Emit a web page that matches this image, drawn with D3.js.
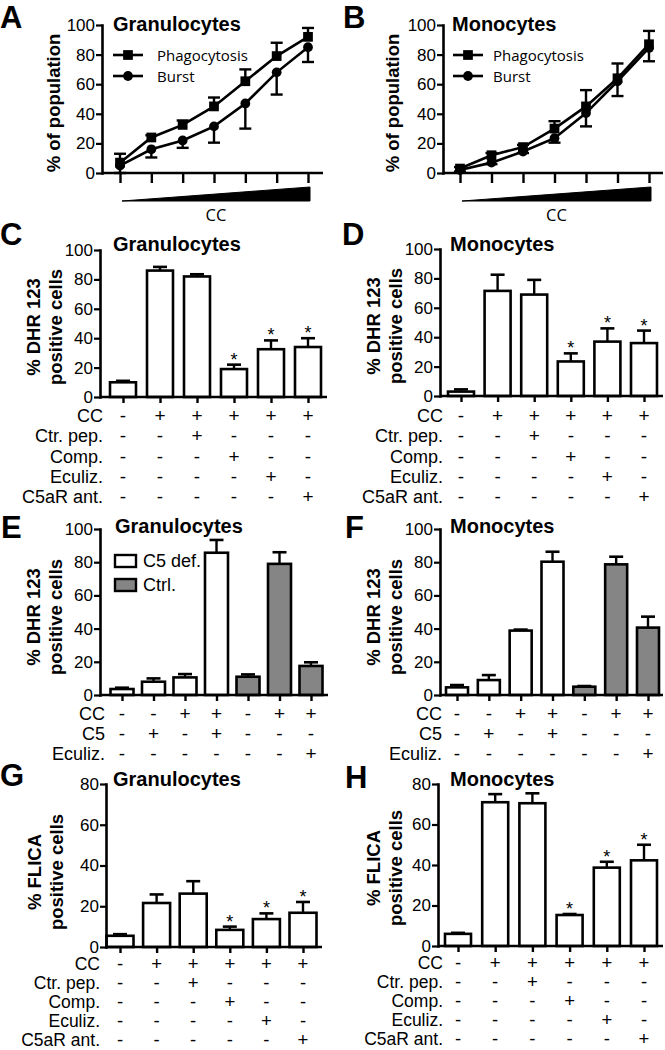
<!DOCTYPE html>
<html><head><meta charset="utf-8">
<script src="https://cdn.jsdelivr.net/npm/d3@7"></script>
<style>
body{margin:0;background:#fff}
svg{display:block}
text{fill:#000}
</style>
</head><body>
<svg id="c" width="665" height="1050"></svg>
<script>
// ---------------- DATA ----------------
const doseSteps = [1, 2, 3, 4, 5, 6, 7];
const lineSeries = ["Phagocytosis", "Burst"];
const granPhago = [7, 24, 32.5, 45, 62, 79, 92];
const granPhagoErr = [6, 1.5, 3, 6, 8, 9, 6];
const granBurst = [5, 16, 22, 31.5, 47, 68, 85];
const granBurstErr = [5, 5.5, 5, 11, 17, 15, 10];
const monoPhago = [3, 12, 17.5, 30, 45, 64, 87];
const monoPhagoErr = [1, 1.5, 1.5, 5, 11, 10, 9];
const monoBurst = [2, 7, 14.5, 23.5, 40.5, 62, 84.5];
const monoBurstErr = [1, 1, 1, 3, 9, 10, 9];

const inhibRowLabels = ["CC", "Ctr. pep.", "Comp.", "Eculiz.", "C5aR ant."];
const inhibRows = [
  ["-", "+", "+", "+", "+", "+"],
  ["-", "-", "+", "-", "-", "-"],
  ["-", "-", "-", "+", "-", "-"],
  ["-", "-", "-", "-", "+", "-"],
  ["-", "-", "-", "-", "-", "+"]
];
const inhibSig = [0, 0, 0, 1, 1, 1];

const dhrGran = [10, 86, 82, 19, 32.5, 34];
const dhrGranErr = [1, 2.5, 1.5, 3, 6, 6];
const dhrMono = [3, 71.5, 69, 23.5, 37, 36];
const dhrMonoErr = [1.5, 11, 10, 5.5, 9, 8.5];

const c5RowLabels = ["CC", "C5", "Eculiz."];
const c5Rows = [
  ["-", "-", "+", "+", "-", "+", "+"],
  ["-", "+", "-", "+", "-", "-", "-"],
  ["-", "-", "-", "-", "-", "-", "+"]
];
const c5Groups = ["C5 def.", "C5 def.", "C5 def.", "C5 def.", "Ctrl.", "Ctrl.", "Ctrl."];
const c5Legend = ["C5 def.", "Ctrl."];
const c5Gran = [3.6, 8, 10.6, 85.7, 11, 79, 17.5];
const c5GranErr = [0.8, 2, 2, 7.7, 1.4, 7, 2.2];
const c5Mono = [4.6, 9, 38.8, 80.3, 5, 78.7, 40.6];
const c5MonoErr = [1.4, 3, 0.6, 6, 0.4, 4.6, 6.6];

const flicaGran = [5.5, 21.6, 26.2, 8.4, 13.7, 16.8];
const flicaGranErr = [0.8, 4.2, 6.1, 1.6, 2.8, 5.3];
const flicaMono = [6, 71, 70.5, 15.3, 38.7, 42.3];
const flicaMonoErr = [0.5, 4, 4.9, 0.5, 2.9, 7.7];

const ticks100 = [0, 20, 40, 60, 80, 100];
const ticks80 = [0, 20, 40, 60, 80];

// ---------------- STYLE ----------------
const FONT = '"Liberation Sans", Arial, sans-serif';
const FONT2 = '"Open Sans", "Noto Sans", sans-serif';
const groupFill = d3.scaleOrdinal().domain(c5Legend).range(["#ffffff", "#858585"]);
const svg = d3.select("#c").attr("font-family", FONT);

function yAxis(g, y, x0, ticks) {
  const a = g.append("g").attr("transform", `translate(${x0},0)`)
    .call(d3.axisLeft(y).tickValues(ticks).tickSize(6).tickPadding(1).tickSizeOuter(0));
  a.attr("font-size", 17).attr("font-family", FONT);
  a.select(".domain").attr("stroke-width", 2.6).attr("stroke-linecap", "square");
  a.selectAll(".tick line").attr("stroke-width", 2.2);
  a.selectAll(".tick text").attr("fill", "#000");
}
function xAxis(g, x, y0, x0, x1, tick) {
  g.append("line").attr("x1", x0).attr("x2", x1).attr("y1", y0).attr("y2", y0)
    .attr("stroke", "#000").attr("stroke-width", 2.6);
  const a = g.append("g").attr("transform", `translate(0,${y0})`)
    .call(d3.axisBottom(x).tickSize(tick).tickFormat(""));
  a.select(".domain").remove();
  a.selectAll(".tick line").attr("stroke-width", 2.4);
}
function yTitle(g, lines, cx, cy, size) {
  const n = lines.length;
  lines.forEach((t, i) => {
    g.append("text")
      .attr("transform", `translate(${cx + (i - (n - 1) / 2) * 22},${cy}) rotate(-90)`)
      .attr("text-anchor", "middle").attr("dy", "0.35em")
      .attr("font-size", size).attr("font-weight", "bold").text(t);
  });
}
function label(g, txt, x, y, size) {
  g.append("text").attr("x", x).attr("y", y).attr("font-size", size)
    .attr("font-weight", "bold").text(txt);
}

function linePanel(L, s1, e1, s2, e2) {
  const g = svg.append("g");
  const y = d3.scaleLinear().domain([0, 100]).range([L.y0, L.y1]);
  const x = d3.scalePoint().domain(doseSteps).range([L.c0, L.c1]);
  const line = d3.line().x((d, i) => x(doseSteps[i])).y(d => y(d));
  const sq = d3.symbol().type(d3.symbolSquare).size(95)();
  const ci = d3.symbol().type(d3.symbolCircle).size(75)();
  const drawErr = (vals, errs, dir) => {
    vals.forEach((v, i) => {
      const cx = x(doseSteps[i]);
      const ye = y(Math.max(0, v + dir * errs[i]));
      g.append("line").attr("x1", cx).attr("x2", cx).attr("y1", y(v)).attr("y2", ye)
        .attr("stroke", "#000").attr("stroke-width", 2.4);
      g.append("line").attr("x1", cx - 6).attr("x2", cx + 6).attr("y1", ye).attr("y2", ye)
        .attr("stroke", "#000").attr("stroke-width", 2.4);
    });
  };
  drawErr(s1, e1, 1);
  drawErr(s2, e2, -1);
  g.append("path").attr("d", line(s1)).attr("fill", "none").attr("stroke", "#000").attr("stroke-width", 2.6);
  g.append("path").attr("d", line(s2)).attr("fill", "none").attr("stroke", "#000").attr("stroke-width", 2.6);
  s1.forEach((v, i) => g.append("path").attr("d", sq).attr("transform", `translate(${x(doseSteps[i])},${y(v)})`));
  s2.forEach((v, i) => g.append("path").attr("d", ci).attr("transform", `translate(${x(doseSteps[i])},${y(v)})`));
  yAxis(g, y, L.ax, ticks100);
  xAxis(g, x, L.y0, L.ax, L.ax1, 10);
  const xa = x(doseSteps[0]) + 2, xb = x(doseSteps[doseSteps.length - 1]) + 2;
  g.append("path").attr("d", `M${xa},${L.wb}L${xb},${L.wt}L${xb},${L.wb}Z`).attr("fill", "#000")
    .attr("stroke", "#000").attr("stroke-width", 1);
  g.append("text").attr("x", (xa + xb) / 2).attr("y", L.wb + 20).attr("text-anchor", "middle")
    .attr("font-family", FONT2).attr("font-size", 16.5).text("CC");
  [sq, ci].forEach((sym, k) => {
    const ly = L.ly[k];
    g.append("line").attr("x1", L.lx0).attr("x2", L.lx1).attr("y1", ly).attr("y2", ly)
      .attr("stroke", "#000").attr("stroke-width", 2.6);
    g.append("path").attr("d", sym).attr("transform", `translate(${(L.lx0 + L.lx1) / 2},${ly})`);
    g.append("text").attr("x", L.tx).attr("y", ly + 6).attr("font-family", FONT2)
      .attr("font-size", 15).text(lineSeries[k]);
  });
  yTitle(g, ["% of population"], L.ytx, L.yty, 18.5);
  label(g, L.title, L.tlx, L.tly, 20);
  label(g, L.letter, L.lex, L.ley, 31);
}

function barPanel(L, vals, errs, sig, fills, rowLabels, rows, ytitle, ticks) {
  const g = svg.append("g");
  const y = d3.scaleLinear().domain([0, L.ymax]).range([L.y0, L.y1]);
  const x = d3.scalePoint().domain(d3.range(vals.length)).range([L.c0, L.c1]);
  vals.forEach((v, i) => {
    const cx = x(i), ye = y(v + errs[i]);
    g.append("line").attr("x1", cx).attr("x2", cx).attr("y1", y(v)).attr("y2", ye)
      .attr("stroke", "#000").attr("stroke-width", 2.4);
    g.append("line").attr("x1", cx - 7).attr("x2", cx + 7).attr("y1", ye).attr("y2", ye)
      .attr("stroke", "#000").attr("stroke-width", 2.6);
    g.append("rect").attr("x", cx - L.bw / 2).attr("y", y(v)).attr("width", L.bw)
      .attr("height", y(0) - y(v)).attr("fill", fills ? groupFill(fills[i]) : "#fff")
      .attr("stroke", "#000").attr("stroke-width", 2.6);
    if (sig && sig[i]) {
      g.append("text").attr("x", cx).attr("y", ye + 1).attr("text-anchor", "middle")
        .attr("font-size", 18).text("*");
    }
  });
  yAxis(g, y, L.ax, ticks);
  xAxis(g, x, L.y0, L.ax, L.ax1, 6);
  rowLabels.forEach((lab, r) => {
    const ry = L.ry0 + r * L.rdy;
    g.append("text").attr("x", L.lx).attr("y", ry).attr("text-anchor", "end")
      .attr("font-size", L.rfs || 18).text(lab);
    rows[r].forEach((s, i) => {
      g.append("text").attr("x", x(i)).attr("y", ry).attr("text-anchor", "middle")
        .attr("font-size", (L.rfs || 18) + 1).text(s);
    });
  });
  yTitle(g, ytitle, L.ytx, L.yty, 18.5);
  label(g, L.title, L.tlx, L.tly, 20);
  label(g, L.letter, L.lex, L.ley, 31);
  if (L.legend) {
    c5Legend.forEach((k, j) => {
      const ly = L.legend.y + j * 24;
      g.append("rect").attr("x", L.legend.x).attr("y", ly).attr("width", 21).attr("height", 12)
        .attr("fill", groupFill(k)).attr("stroke", "#000").attr("stroke-width", 2.4);
      g.append("text").attr("x", L.legend.x + 28).attr("y", ly + 12).attr("font-size", 18).text(k);
    });
  }
}

// ---------------- PANELS ----------------
linePanel({ax: 102, ax1: 323, y0: 173, y1: 25, c0: 120, c1: 308, wt: 187, wb: 201,
  lx0: 113, lx1: 143, ly: [55, 76], tx: 157, ytx: 54, yty: 103,
  title: "Granulocytes", tlx: 113, tly: 31, letter: "A", lex: 0, ley: 28},
  granPhago, granPhagoErr, granBurst, granBurstErr);
linePanel({ax: 443, ax1: 663, y0: 173, y1: 25, c0: 460, c1: 649, wt: 187, wb: 201,
  lx0: 453, lx1: 483, ly: [55, 76], tx: 493, ytx: 393, yty: 103,
  title: "Monocytes", tlx: 452, tly: 31, letter: "B", lex: 343, ley: 28},
  monoPhago, monoPhagoErr, monoBurst, monoBurstErr);

barPanel({ax: 100, ax1: 327, y0: 397, y1: 250, ymax: 100, c0: 123, c1: 308, bw: 26,
  ry0: 422, rdy: 20.3, lx: 103, ytx: 45, yty: 327,
  title: "Granulocytes", tlx: 113, tly: 251, letter: "C", lex: 0, ley: 245},
  dhrGran, dhrGranErr, inhibSig, null, inhibRowLabels, inhibRows, ["% DHR 123", "positive cells"], ticks100);
barPanel({ax: 440, ax1: 663, y0: 396, y1: 249, ymax: 100, c0: 461, c1: 644, bw: 26,
  ry0: 422, rdy: 20.3, lx: 443, ytx: 385, yty: 326,
  title: "Monocytes", tlx: 450, tly: 251, letter: "D", lex: 342, ley: 245},
  dhrMono, dhrMonoErr, inhibSig, null, inhibRowLabels, inhibRows, ["% DHR 123", "positive cells"], ticks100);

barPanel({ax: 100, ax1: 328, y0: 695, y1: 529, ymax: 100, c0: 122, c1: 311, bw: 23,
  ry0: 720, rdy: 20, lx: 105, ytx: 45, yty: 617, legend: {x: 115, y: 555},
  title: "Granulocytes", tlx: 115, tly: 533, letter: "E", lex: 1, ley: 538},
  c5Gran, c5GranErr, null, c5Groups, c5RowLabels, c5Rows, ["% DHR 123", "positive cells"], ticks100);
barPanel({ax: 440, ax1: 663, y0: 695, y1: 529, ymax: 100, c0: 457, c1: 648, bw: 22,
  ry0: 720, rdy: 20, lx: 442, ytx: 385, yty: 617,
  title: "Monocytes", tlx: 450, tly: 533, letter: "F", lex: 345, ley: 538},
  c5Mono, c5MonoErr, null, c5Groups, c5RowLabels, c5Rows, ["% DHR 123", "positive cells"], ticks100);

barPanel({ax: 106, ax1: 322, y0: 947, y1: 784, ymax: 80, c0: 120, c1: 303, bw: 27,
  ry0: 970, rdy: 19, lx: 100, rfs: 17.5, ytx: 46, yty: 872,
  title: "Granulocytes", tlx: 113, tly: 786, letter: "G", lex: 0, ley: 786},
  flicaGran, flicaGranErr, inhibSig, null, inhibRowLabels, inhibRows, ["% FLICA", "positive cells"], ticks80);
barPanel({ax: 438, ax1: 663, y0: 946, y1: 784, ymax: 80, c0: 458, c1: 644, bw: 26,
  ry0: 969, rdy: 19.1, lx: 443, rfs: 17.5, ytx: 385, yty: 868,
  title: "Monocytes", tlx: 450, tly: 786, letter: "H", lex: 345, ley: 788},
  flicaMono, flicaMonoErr, inhibSig, null, inhibRowLabels, inhibRows, ["% FLICA", "positive cells"], ticks80);
</script>
</body></html>
